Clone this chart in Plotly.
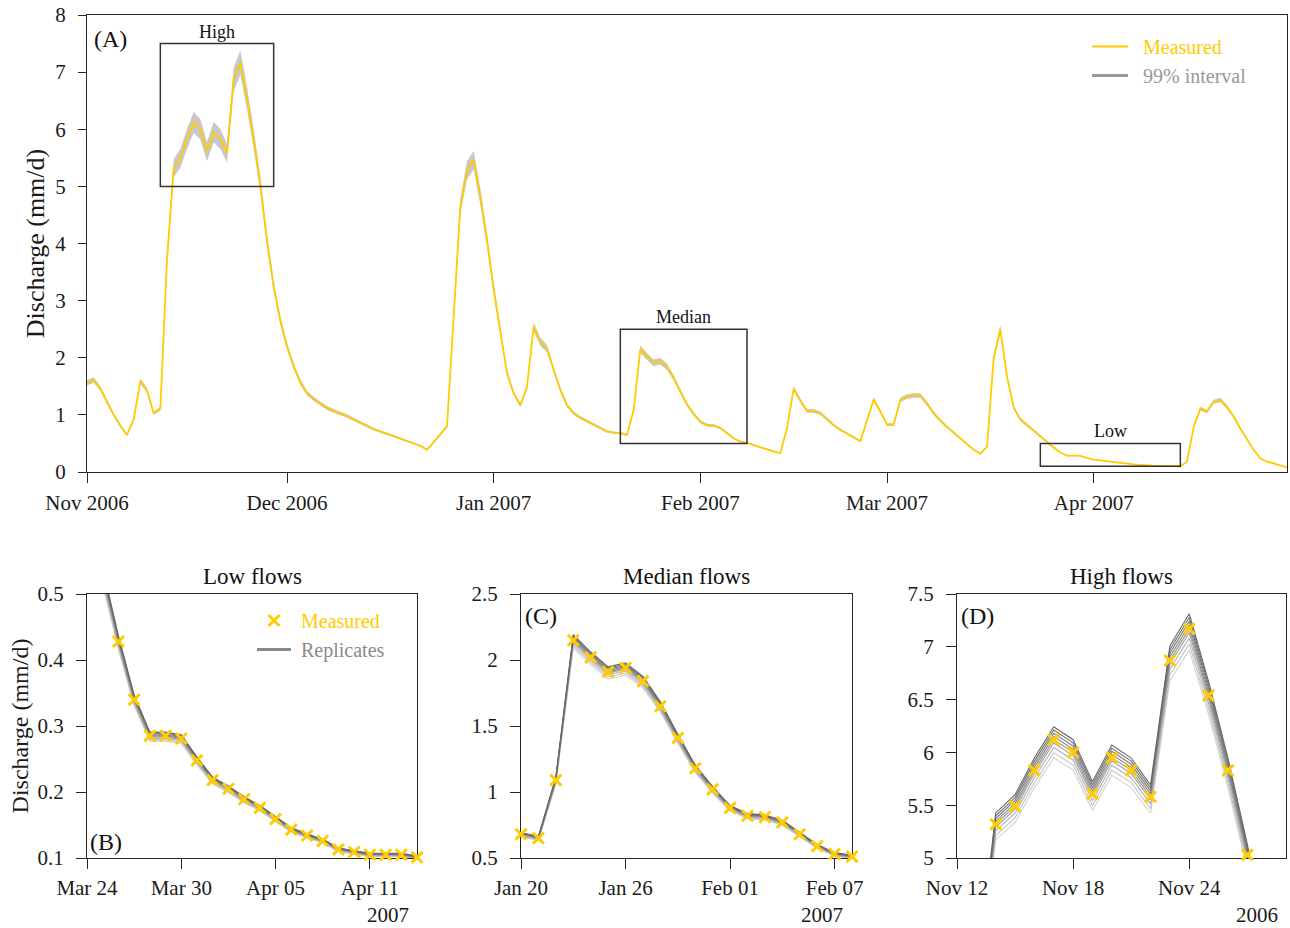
import pandas as pd
import plotly.graph_objects as go

# ---------------- data ----------------
start_date = "2006-11-01"
end_date = "2007-04-30"

measured = [
    1.56, 1.61, 1.46, 1.23, 1.00, 0.81, 0.65, 0.92, 1.59, 1.43,   # Nov 1-10
    1.03, 1.11, 3.71, 5.32, 5.49, 5.83, 6.12, 6.00, 5.61, 5.95,   # Nov 11-20
    5.83, 5.58, 6.87, 7.17, 6.54, 5.83, 5.03, 4.05, 3.25, 2.65,   # Nov 21-30
    2.20, 1.85, 1.57, 1.38, 1.28, 1.20, 1.12, 1.07, 1.03, 0.98,   # Dec 1-10
    0.92, 0.86, 0.80, 0.75, 0.71, 0.67, 0.63, 0.59, 0.55, 0.51,   # Dec 11-20
    0.46, 0.39, 0.52, 0.66, 0.80, 2.70, 4.64, 5.28, 5.46, 4.82,   # Dec 21-30
    4.06,                                                         # Dec 31
    3.20, 2.43, 1.73, 1.38, 1.17, 1.49, 2.54, 2.28, 2.16, 1.79,   # Jan 1-10
    1.44, 1.17, 1.03, 0.95, 0.89, 0.84, 0.77, 0.71, 0.69, 0.68,   # Jan 11-20
    0.65, 1.09, 2.15, 2.02, 1.91, 1.94, 1.84, 1.65, 1.41, 1.18,   # Jan 21-30
    1.02,                                                         # Jan 31
    0.88, 0.82, 0.81, 0.77, 0.68, 0.59, 0.53, 0.51, 0.47, 0.43,   # Feb 1-10
    0.39, 0.36, 0.33, 0.77, 1.46, 1.25, 1.07, 1.07, 1.03, 0.92,   # Feb 11-20
    0.82, 0.74, 0.67, 0.60, 0.54, 0.90, 1.27, 1.06,               # Feb 21-28
    0.83, 0.83, 1.26, 1.32, 1.34, 1.34, 1.20, 1.03, 0.90, 0.79,   # Mar 1-10
    0.69, 0.59, 0.48, 0.39, 0.32, 0.44, 1.99, 2.50, 1.67, 1.13,   # Mar 11-20
    0.92, 0.82, 0.73, 0.63, 0.53, 0.428, 0.340, 0.285, 0.285, 0.281,  # Mar 21-30
    0.248,                                                        # Mar 31
    0.218, 0.205, 0.189, 0.176, 0.159, 0.143, 0.134, 0.126, 0.113, 0.109,  # Apr 1-10
    0.105, 0.105, 0.105, 0.101, 0.18, 0.79, 1.11, 1.06, 1.23, 1.26,        # Apr 11-20
    1.14, 0.97, 0.76, 0.56, 0.385, 0.24, 0.18, 0.15, 0.12, 0.08,           # Apr 21-30
]

# relative spread of the 99% interval (top panel) and of the replicates (bottom panels)
band_low_factor = 0.97
band_high_factor = 1.03
replicate_factors = [0.972, 0.980, 0.988, 0.995, 1.000, 1.005, 1.010, 1.015, 1.020]
replicate_shades = ["#d2d2d2", "#c2c2c2", "#b0b0b0", "#a0a0a0", "#929292",
                    "#868686", "#7a7a7a", "#707070", "#666666"]

# zoom windows (dates, discharge range)
low_window = ("2007-03-24", "2007-04-14")
low_range = (0.1, 0.5)
median_window = ("2007-01-20", "2007-02-08")
median_range = (0.5, 2.5)
high_window = ("2006-11-12", "2006-11-29")
high_range = (5.0, 7.5)

top_yticks = [0, 1, 2, 3, 4, 5, 6, 7, 8]
low_yticks = [0.1, 0.2, 0.3, 0.4, 0.5]
median_yticks = [0.5, 1, 1.5, 2, 2.5]
high_yticks = [5, 5.5, 6, 6.5, 7, 7.5]

# ---------------- build ----------------
dates = pd.date_range(start_date, end_date, freq="D")
s = pd.Series(measured, index=dates)

GOLD = "#FFCC00"
FONT = "Liberation Serif"
AX = "#262626"

W, H = 1290, 928
def px_x(a, b):
    return [a / W, b / W]
def px_y(top, bottom):
    return [1 - bottom / H, 1 - top / H]

fig = go.Figure()

# top panel: band + measured
fig.add_trace(go.Scatter(x=dates, y=s * band_low_factor, mode="lines", line=dict(width=0),
                         showlegend=False, hoverinfo="skip", xaxis="x", yaxis="y"))
fig.add_trace(go.Scatter(x=dates, y=s * band_high_factor, mode="lines", line=dict(width=0),
                         fill="tonexty", fillcolor="#c8c8c8", showlegend=False,
                         hoverinfo="skip", xaxis="x", yaxis="y"))
fig.add_trace(go.Scatter(x=dates, y=s, mode="lines", line=dict(color=GOLD, width=1.8),
                         name=f'&nbsp;&nbsp;<span style="color:{GOLD}">Measured</span>',
                         legend="legend", xaxis="x", yaxis="y"))
fig.add_trace(go.Scatter(x=[None], y=[None], mode="lines", line=dict(color="#999999", width=3),
                         name='&nbsp;&nbsp;<span style="color:#999999">99% interval</span>',
                         legend="legend", xaxis="x", yaxis="y"))

panels = [
    ("x2", "y2", low_window, low_range),
    ("x3", "y3", median_window, median_range),
    ("x4", "y4", high_window, high_range),
]
for i, (xa, ya, win, rng) in enumerate(panels):
    t0 = pd.Timestamp(win[0]) - pd.Timedelta(days=1)
    t1 = pd.Timestamp(win[1]) + pd.Timedelta(days=1)
    seg = s[t0:t1]
    for f, c in zip(replicate_factors, replicate_shades):
        fig.add_trace(go.Scatter(x=seg.index, y=seg * f, mode="lines",
                                 line=dict(color=c, width=1.1), showlegend=False,
                                 hoverinfo="skip", xaxis=xa, yaxis=ya))
    m = s[win[0]:win[1]]
    m = m[(m >= rng[0] - 1e-9) & (m <= rng[1] + 1e-9)]
    fig.add_trace(go.Scatter(x=m.index, y=m, mode="markers", cliponaxis=False,
                             marker=dict(symbol="x-thin", size=11,
                                         line=dict(color=GOLD, width=3)),
                             name=f'&nbsp;<span style="color:{GOLD}">Measured</span>',
                             showlegend=(i == 0), legend="legend2", xaxis=xa, yaxis=ya))
    if i == 0:
        fig.add_trace(go.Scatter(x=[None], y=[None], mode="lines",
                                 line=dict(color="#8a8a8a", width=3),
                                 name='&nbsp;<span style="color:#8a8a8a">Replicates</span>',
                                 legend="legend2", xaxis=xa, yaxis=ya))

# zoom boxes in the top panel
for (win, rng, label) in [(high_window, high_range, "High"),
                          (median_window, median_range, "Median"),
                          (low_window, low_range, "Low")]:
    fig.add_shape(type="rect", xref="x", yref="y", x0=win[0], x1=win[1],
                  y0=rng[0], y1=rng[1], line=dict(color="#333333", width=1.5))
    mid = pd.Timestamp(win[0]) + (pd.Timestamp(win[1]) - pd.Timestamp(win[0])) / 2
    fig.add_annotation(x=mid, y=rng[1], xref="x", yref="y", text=label, showarrow=False,
                       yanchor="bottom", yshift=0, font=dict(size=18, color="#111"))

common_axis = dict(showline=True, linecolor=AX, linewidth=1.3, mirror=True, ticks="outside",
                   tickcolor=AX, tickwidth=1.2, showgrid=False, zeroline=False,
                   automargin=False,
                   tickfont=dict(family=FONT, size=21, color="#1a1a1a"))

fig.update_layout(
    template="none",
    width=W, height=H, margin=dict(l=0, r=0, t=0, b=0, autoexpand=False),
    plot_bgcolor="white", paper_bgcolor="white",
    font=dict(family=FONT, size=21, color="#111"),
    xaxis=dict(domain=px_x(87, 1287), anchor="y", range=[start_date, end_date],
               tick0=start_date, dtick="M1", tickformat="%b %Y", ticklen=10,
               ticklabelstandoff=2, **common_axis),
    yaxis=dict(domain=px_y(15, 472), anchor="x", range=[0, 8], tickvals=top_yticks,
               ticklen=8, ticklabelstandoff=8,
               title=dict(text="Discharge (mm/d)", font=dict(family=FONT, size=26, color="#1a1a1a"),
                          standoff=3), **common_axis),
    xaxis2=dict(domain=px_x(87, 417), anchor="y2", range=list(low_window),
                tick0=low_window[0], dtick=6 * 86400000, tickformat="%b %d", ticklen=10,
                ticklabelstandoff=1, layer="below traces", **common_axis),
    yaxis2=dict(domain=px_y(594, 858), anchor="x2", range=list(low_range), tickvals=low_yticks,
                ticklen=10, ticklabelstandoff=8, layer="below traces",
                title=dict(text="Discharge (mm/d)", font=dict(family=FONT, size=24, color="#1a1a1a"),
                           standoff=2), **common_axis),
    xaxis3=dict(domain=px_x(521, 852), anchor="y3", range=list(median_window),
                tick0=median_window[0], dtick=6 * 86400000, tickformat="%b %d", ticklen=10,
                ticklabelstandoff=1, layer="below traces", **common_axis),
    yaxis3=dict(domain=px_y(594, 858), anchor="x3", range=list(median_range),
                tickvals=median_yticks, ticktext=["0.5", "1", "1.5", "2", "2.5"],
                ticklen=10, ticklabelstandoff=8, layer="below traces", **common_axis),
    xaxis4=dict(domain=px_x(957, 1286), anchor="y4", range=list(high_window),
                tick0=high_window[0], dtick=6 * 86400000, tickformat="%b %d", ticklen=10,
                ticklabelstandoff=1, layer="below traces", **common_axis),
    yaxis4=dict(domain=px_y(594, 858), anchor="x4", range=list(high_range),
                tickvals=high_yticks, ticktext=["5", "5.5", "6", "6.5", "7", "7.5"],
                ticklen=10, ticklabelstandoff=8, layer="below traces", **common_axis),
    legend=dict(x=1087 / W, y=1 - 27 / H, xanchor="left", yanchor="top",
                bgcolor="rgba(0,0,0,0)", font=dict(family=FONT, size=20),
                itemwidth=36, tracegroupgap=0, traceorder="normal"),
    legend2=dict(x=252 / W, y=1 - 601 / H, xanchor="left", yanchor="top",
                 bgcolor="rgba(0,0,0,0)", font=dict(family=FONT, size=20),
                 itemwidth=34, tracegroupgap=0, traceorder="normal"),
    showlegend=True,
)

# panel letters, titles, year labels
ann = [
    ("(A)", 92, 39, "left", 24),
    ("(B)", 88, 842, "left", 24),
    ("(C)", 523, 616, "left", 24),
    ("(D)", 959, 616, "left", 24),
]
for t, x, y, xa, size in ann:
    fig.add_annotation(x=x / W, y=1 - y / H, xref="paper", yref="paper", text=t,
                       showarrow=False, xanchor=xa, yanchor="middle",
                       font=dict(size=size, color="#111"))
for t, cx in [("Low flows", 252), ("Median flows", 686), ("High flows", 1121)]:
    fig.add_annotation(x=cx / W, y=1 - 576 / H, xref="paper", yref="paper", text=t,
                       showarrow=False, xanchor="center", yanchor="middle",
                       font=dict(size=23, color="#111"))
for t, rx in [("2007", 411), ("2007", 845), ("2006", 1280)]:
    fig.add_annotation(x=rx / W, y=1 - 915 / H, xref="paper", yref="paper", text=t,
                       showarrow=False, xanchor="right", yanchor="middle",
                       font=dict(size=21, color="#1a1a1a"))

fig.write_html("out.html")
